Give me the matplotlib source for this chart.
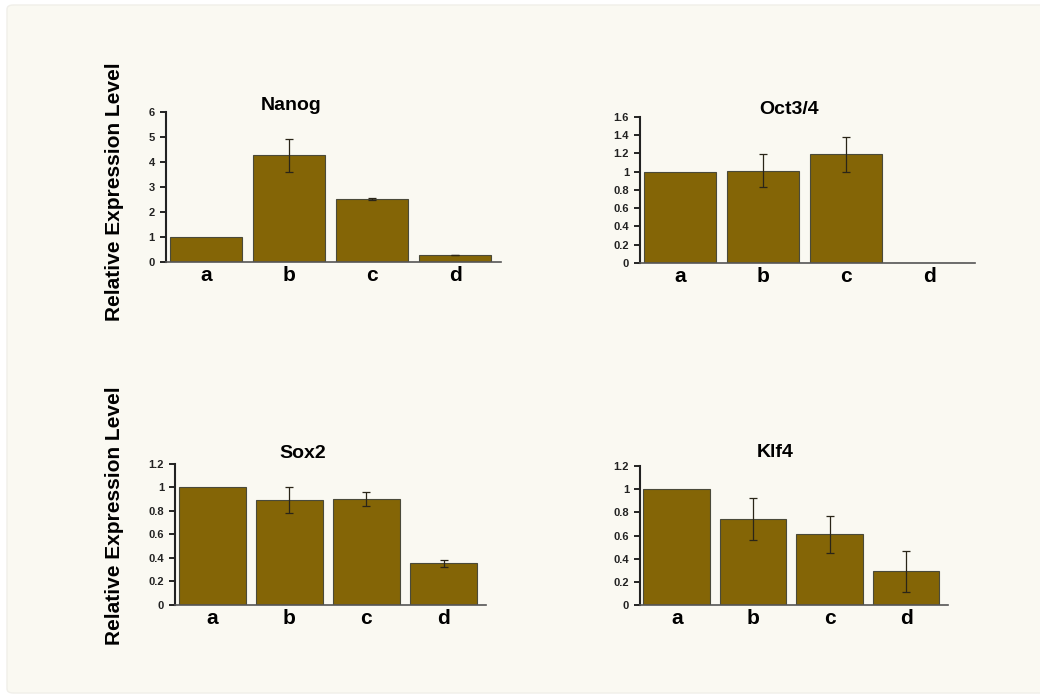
import matplotlib
matplotlib.use('Agg')
import matplotlib.pyplot as plt
from matplotlib.patches import FancyBboxPatch

plt.rcParams['font.family'] = ['Liberation Sans', 'DejaVu Sans']

# dados
categorias = ['a', 'b', 'c', 'd']

nanog = [1.0, 4.27, 2.52, 0.28]
nanog_err = [0.0, 0.65, 0.05, 0.01]

oct34 = [1.0, 1.01, 1.19, 0.005]
oct34_err = [0.0, 0.18, 0.19, 0.0]

sox2 = [1.0, 0.89, 0.905, 0.355]
sox2_err = [0.0, 0.11, 0.06, 0.03]

klf4 = [1.0, 0.74, 0.61, 0.29]
klf4_err = [0.0, 0.18, 0.16, 0.18]

nanog_ticks = [0, 1, 2, 3, 4, 5, 6]
oct34_ticks = [0, 0.2, 0.4, 0.6, 0.8, 1, 1.2, 1.4, 1.6]
sox2_ticks = [0, 0.2, 0.4, 0.6, 0.8, 1, 1.2]
klf4_ticks = [0, 0.2, 0.4, 0.6, 0.8, 1, 1.2]

cor_barra = '#846506'
fundo = '#faf9f2'

fig = plt.figure(figsize=(10.4, 6.97), dpi=100)
fig.patch.set_facecolor('#ffffff')
painel = FancyBboxPatch((7 / 1040, 4 / 697), 1.0, 1 - 9 / 697,
                        boxstyle='round,pad=0,rounding_size=0.006',
                        transform=fig.transFigure, facecolor=fundo,
                        edgecolor='#f0efe9', linewidth=1.0, zorder=-10)
fig.patches.append(painel)


def fmt(v):
    if float(v).is_integer():
        return str(int(v))
    return f'{v:g}'


def desenhar(pos, valores, erros, ticks, titulo, titulo_x, titulo_y):
    ax = fig.add_axes(pos)
    ax.set_facecolor('none')
    x = range(len(categorias))
    ax.bar(x, valores, width=0.87, color=cor_barra, edgecolor='#4a4a3a',
           linewidth=0.8, zorder=2)
    for xi, v, e in zip(x, valores, erros):
        if e > 0:
            ax.errorbar(xi, v, yerr=e, fmt='none', ecolor='#2a2518',
                        elinewidth=0.9, capsize=3, capthick=0.9, zorder=3)
    ax.set_xlim(-0.48, 3.55)
    ax.set_ylim(0, ticks[-1])
    ax.set_yticks(ticks)
    ax.set_yticklabels([fmt(t) for t in ticks], fontsize=8, fontweight='bold',
                       color='#222222')
    ax.set_xticks(list(x))
    ax.set_xticklabels(categorias, fontsize=15, fontweight='bold')
    ax.tick_params(axis='x', length=0, pad=3)
    ax.tick_params(axis='y', length=4, width=1.2, direction='out', pad=4)
    for s in ['top', 'right']:
        ax.spines[s].set_visible(False)
    ax.spines['left'].set_linewidth(1.5)
    ax.spines['left'].set_color('#222222')
    ax.spines['bottom'].set_linewidth(1.2)
    ax.spines['bottom'].set_color('#555555')
    ax.text(titulo_x, titulo_y, titulo, transform=ax.transAxes, ha='center',
            va='baseline', fontsize=14, fontweight='bold')
    return ax


desenhar([0.1596, 0.6241, 0.3221, 0.2152], nanog, nanog_err, nanog_ticks,
         'Nanog', 0.375, 1.013)
desenhar([0.6154, 0.6227, 0.3221, 0.2095], oct34, oct34_err, oct34_ticks,
         'Oct3/4', 0.445, 1.02)
desenhar([0.1683, 0.1320, 0.2990, 0.2023], sox2, sox2_err, sox2_ticks,
         'Sox2', 0.41, 1.04)
desenhar([0.6154, 0.1320, 0.2962, 0.1994], klf4, klf4_err, klf4_ticks,
         'Klf4', 0.44, 1.065)

fig.text(115 / 1040, 1 - 192 / 697, 'Relative Expression Level', rotation=90,
         ha='center', va='center', fontsize=15, fontweight='bold')
fig.text(115 / 1040, 1 - 516 / 697, 'Relative Expression Level', rotation=90,
         ha='center', va='center', fontsize=15, fontweight='bold')

fig.savefig('out.png', dpi=100, facecolor=fig.get_facecolor())
